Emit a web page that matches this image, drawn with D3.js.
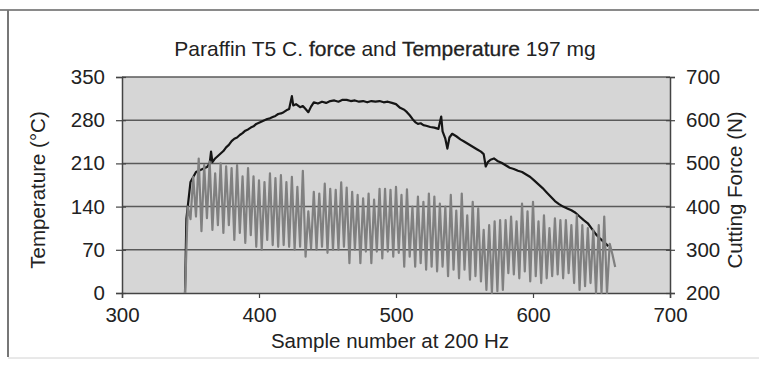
<!DOCTYPE html>
<html>
<head>
<meta charset="utf-8">
<script src="https://cdn.jsdelivr.net/npm/d3@7"></script>
<style>
  body { margin: 0; background: #fff; }
  text { font-family: "Liberation Sans", Arial, sans-serif; fill: #222; }
</style>
</head>
<body>
<script>
var width = 759, height = 369;
var margin = {top: 77, right: 89, bottom: 76, left: 122};

// x ticks, left axis (temperature), right axis (cutting force)
var xTicks = [300, 400, 500, 600, 700];
var tempTicks = [0, 70, 140, 210, 280, 350];
var forceTicks = [200, 300, 400, 500, 600, 700];

// temperature (black)
var tempSamples = [346, 347, 350, 354, 358, 362, 364, 365, 366, 368, 370, 372, 374, 376, 378, 380,
  382, 384, 386, 388, 390, 392, 394, 396, 398, 400, 402, 404, 406, 408, 410, 412, 414, 416, 418,
  420, 422, 424, 425, 427, 430, 432, 434, 436, 438, 440, 443, 446, 449, 452, 455, 458, 461, 464,
  467, 470, 473, 476, 479, 482, 485, 488, 491, 494, 497, 500, 503, 506, 508, 510, 512, 514, 516,
  518, 520, 522, 525, 528, 531, 533, 534, 536, 537.5, 539, 541, 544, 547, 550, 553, 556, 559, 562,
  564, 565.5, 567, 569, 571.5, 574, 577, 580, 583, 586, 589, 592, 595, 598, 601, 604, 607, 610,
  613, 616, 619, 622, 625, 628, 631, 634, 637, 640, 643, 646, 649, 652, 655];
var tempValues = [0, 120, 180, 196, 200, 204, 210, 229, 212, 218, 222, 226, 230, 236, 240, 246,
  250, 252, 256, 259, 263, 265, 268, 270, 274, 276, 278, 280, 282, 283, 285, 287, 290, 291, 293,
  296, 298, 319, 304, 306, 301, 303, 298, 293, 302, 309, 307, 310, 308, 311, 312, 310, 313, 313,
  311, 312, 310, 311, 309, 311, 310, 311, 309, 310, 308, 306, 300, 297, 293, 288, 282, 277, 274,
  275, 272, 271, 269, 268, 266, 286, 262, 250, 234, 252, 258, 254, 249, 245, 241, 237, 233, 229,
  225, 205, 212, 216, 218, 214, 211, 207, 203, 201, 198, 196, 192, 188, 182, 176, 170, 163,
  156, 149, 144, 140, 137, 134, 130, 124, 118, 113, 104, 95, 88, 82, 76];

// cutting force (gray), every 2nd sample from 346 to 660
var forceStart = 346, forceStep = 2;
var forceValues = [
  200, 400, 371, 469, 377, 511, 343, 496, 373, 504,
  346, 477, 357, 500, 339, 493, 357, 489, 323, 496,
  339, 470, 316, 489, 334, 470, 307, 461, 300, 457,
  323, 477, 311, 466, 307, 473, 311, 457, 307, 469,
  300, 446, 307, 483, 284, 389, 303, 434, 300, 430,
  307, 453, 293, 441, 300, 439, 300, 456, 307, 444,
  269, 434, 300, 427, 269, 419, 296, 430, 269, 416,
  296, 441, 280, 441, 296, 439, 284, 446, 293, 427,
  261, 440, 284, 400, 261, 423, 269, 411, 254, 430,
  261, 423, 250, 407, 261, 400, 239, 427, 254, 391,
  234, 430, 254, 380, 231, 411, 239, 396, 227, 346,
  207, 357, 200, 366, 204, 369, 207, 369, 246, 377,
  243, 366, 234, 407, 250, 389, 227, 411, 239, 366,
  223, 380, 234, 350, 239, 373, 243, 369, 234, 369,
  246, 357, 223, 380, 207, 357, 216, 350, 223, 346,
  200, 357, 200, 377, 200, 314, 289, 260];

var w = width - margin.left - margin.right;
var h = height - margin.top - margin.bottom;
var fontSize = "20.5px";

var svg = d3.select("body").append("svg")
    .attr("width", width)
    .attr("height", height);

// page frame lines from the scan
svg.append("line").attr("x1", 0).attr("x2", width).attr("y1", 10).attr("y2", 10)
    .attr("stroke", "#8a8a8a").attr("stroke-width", 2);
svg.append("line").attr("x1", 8).attr("x2", 8).attr("y1", 10).attr("y2", 357)
    .attr("stroke", "#777").attr("stroke-width", 2);
svg.append("line").attr("x1", 8).attr("x2", width).attr("y1", 358).attr("y2", 358)
    .attr("stroke", "#d2d2d2").attr("stroke-width", 1);

var g = svg.append("g")
    .attr("transform", "translate(" + margin.left + "," + margin.top + ")");

var x = d3.scaleLinear().domain([300, 700]).range([0, w]);
var yT = d3.scaleLinear().domain([0, 350]).range([h, 0]);
var yF = d3.scaleLinear().domain([200, 700]).range([h, 0]);

g.append("rect").attr("width", w).attr("height", h).attr("fill", "#d6d6d6");

// gridlines
g.selectAll(".grid").data(tempTicks.slice(1)).enter().append("line")
    .attr("x1", 0).attr("x2", w)
    .attr("y1", d => yT(d)).attr("y2", d => yT(d))
    .attr("stroke", "#5a5a5a").attr("stroke-width", 1.5);

// axes (tick marks on the value axes cross the axis line)
var axL = g.append("g").call(d3.axisLeft(yT).tickValues(tempTicks).tickSize(6).tickPadding(11));
axL.selectAll(".tick line").attr("x2", -6).attr("x1", 4);
var axR = g.append("g").attr("transform", "translate(" + w + ",0)")
    .call(d3.axisRight(yF).tickValues(forceTicks).tickSize(5).tickPadding(11));
axR.selectAll(".tick line").attr("x2", 5).attr("x1", -4);
var axB = g.append("g").attr("transform", "translate(0," + h + ")")
    .call(d3.axisBottom(x).tickValues(xTicks).tickSize(5).tickPadding(9));
[axL, axR, axB].forEach(function (a) {
  a.select(".domain").attr("stroke", "#444").attr("stroke-width", 1.5);
  a.selectAll(".tick line").attr("stroke", "#444").attr("stroke-width", 1.2);
  a.selectAll("text").style("font-size", fontSize)
      .style("font-family", "Liberation Sans, Arial, sans-serif").attr("fill", "#222");
});

var tempData = tempSamples.map((s, i) => ({s: s, v: tempValues[i]}));
var forceData = forceValues.map((v, i) => ({s: forceStart + i * forceStep, v: v}));

g.append("path").datum(tempData)
    .attr("fill", "none").attr("stroke", "#151515").attr("stroke-width", 2.2)
    .attr("stroke-linejoin", "round")
    .attr("d", d3.line().x(d => x(d.s)).y(d => yT(d.v)));

g.append("path").datum(forceData)
    .attr("fill", "none").attr("stroke", "#808080").attr("stroke-width", 2.2)
    .attr("stroke-linejoin", "round")
    .attr("d", d3.line().x(d => x(d.s)).y(d => yF(d.v)));

// titles; "force" and "Temperature" look a little heavier in the scan
var titleParts = [["Paraffin T5 C. ", false], ["force", true], [" and ", false],
  ["Temperature", true], [" 197 mg", false]];
var title = svg.append("text")
    .attr("x", 385).attr("y", 56)
    .attr("text-anchor", "middle")
    .style("font-size", "21px");
title.selectAll("tspan").data(titleParts).enter().append("tspan")
    .attr("stroke", d => d[1] ? "#222" : null)
    .attr("stroke-width", d => d[1] ? 0.3 : null)
    .text(d => d[0]);

svg.append("text")
    .attr("x", 390).attr("y", 348)
    .attr("text-anchor", "middle")
    .style("font-size", fontSize)
    .text("Sample number at 200 Hz");

svg.append("text")
    .attr("transform", "translate(45,190) rotate(-90)")
    .attr("text-anchor", "middle")
    .style("font-size", fontSize)
    .text("Temperature (°C)");

svg.append("text")
    .attr("transform", "translate(742,190) rotate(-90)")
    .attr("text-anchor", "middle")
    .style("font-size", fontSize)
    .text("Cutting Force (N)");
</script>
</body>
</html>
